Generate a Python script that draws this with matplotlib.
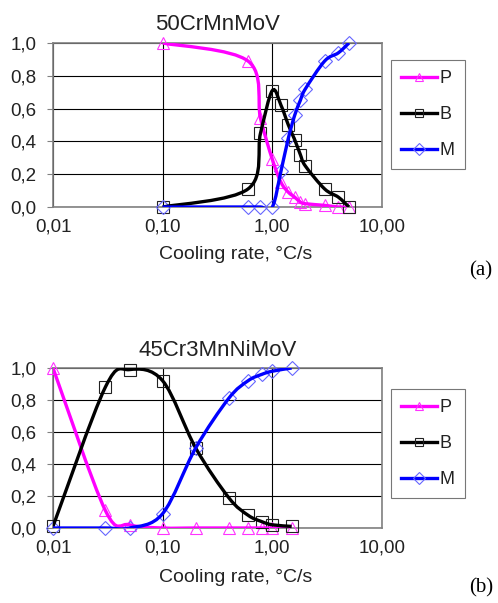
import numpy as np
import matplotlib
matplotlib.use("Agg")
import matplotlib.pyplot as plt
from matplotlib.path import Path
from matplotlib.patches import PathPatch
from matplotlib.lines import Line2D
from matplotlib.ticker import FixedLocator, FixedFormatter

plt.rcParams['font.family'] = ['Liberation Sans', 'DejaVu Sans']

# (a) 50CrMnMoV
rate_a = [0.1, 0.6, 0.78, 1.0, 1.2, 1.4, 1.6, 1.8, 2.0, 3.0, 4.0, 5.0]
p_a = [1.0, 0.89, 0.54, 0.29, 0.15, 0.09, 0.06, 0.03, 0.02, 0.01, 0.0, 0.0]
b_a = [0.0, 0.11, 0.45, 0.71, 0.62, 0.50, 0.41, 0.32, 0.25, 0.11, 0.06, 0.0]
m_a = [0.0, 0.0, 0.0, 0.0, 0.22, 0.42, 0.56, 0.65, 0.72, 0.89, 0.94, 1.0]

# (b) 45Cr3MnNiMoV
rate_b = [0.01, 0.03, 0.05, 0.1, 0.2, 0.4, 0.6, 0.8, 1.0, 1.5]
p_b = [1.0, 0.11, 0.02, 0.0, 0.0, 0.0, 0.0, 0.0, 0.0, 0.0]
b_b = [0.01, 0.88, 0.99, 0.92, 0.5, 0.19, 0.08, 0.04, 0.02, 0.01]
m_b = [0.0, 0.0, 0.0, 0.09, 0.5, 0.81, 0.92, 0.96, 0.98, 1.0]

x_ticks = [0.01, 0.1, 1, 10]
x_labels = ['0,01', '0,10', '1,00', '10,00']
y_ticks = [0, 0.2, 0.4, 0.6, 0.8, 1.0]
y_labels = ['0,0', '0,2', '0,4', '0,6', '0,8', '1,0']

styles = {
    'P': dict(color='#ff00ff', marker='^', mec='#ff33ff', ms=9),
    'B': dict(color='black', marker='s', mec='#222222', ms=9),
    'M': dict(color='#0000ff', marker='D', mec='#6666ff', ms=7),
}


def smooth_path(x, y):
    # Excel-like smoothed line: bezier segments in log-x space
    u = np.log10(np.asarray(x, float))
    v = np.asarray(y, float)
    n = len(u)
    verts = [(u[0], v[0])]
    codes = [Path.MOVETO]
    for i in range(n - 1):
        a = max(i - 1, 0)
        d = min(i + 2, n - 1)
        c1 = (u[i] + (u[i + 1] - u[a]) / 6, v[i] + (v[i + 1] - v[a]) / 6)
        c2 = (u[i + 1] - (u[d] - u[i]) / 6, v[i + 1] - (v[d] - v[i]) / 6)
        verts += [c1, c2, (u[i + 1], v[i + 1])]
        codes += [Path.CURVE4] * 3
    verts = np.array(verts)
    verts[:, 0] = 10 ** verts[:, 0]
    return Path(verts, codes)


def draw(ax, rate, series, title):
    for name, vals in series:
        st = styles[name]
        ax.plot(rate, vals, ls='none', marker=st['marker'], ms=st['ms'],
                mfc='none', mec=st['mec'], mew=0.8, zorder=3, clip_on=False)
        ax.add_patch(PathPatch(smooth_path(rate, vals), fill=False,
                               edgecolor=st['color'], lw=2.4, zorder=4))
    ax.set_xscale('log')
    ax.set_xlim(0.01, 10)
    ax.set_ylim(0, 1)
    ax.xaxis.set_major_locator(FixedLocator(x_ticks))
    ax.xaxis.set_major_formatter(FixedFormatter(x_labels))
    ax.xaxis.set_minor_locator(FixedLocator([]))
    ax.yaxis.set_major_locator(FixedLocator(y_ticks))
    ax.yaxis.set_major_formatter(FixedFormatter(y_labels))
    ax.tick_params(axis='x', length=0, pad=8, labelsize=13.5, labelcolor='#222222')
    ax.tick_params(axis='y', length=4, direction='out', color='#808080', pad=8,
                   labelsize=13.5, labelcolor='#222222')
    ax.grid(True, color='black', lw=0.8)
    ax.set_axisbelow(True)
    for s in ax.spines.values():
        s.set_color('#808080')
        s.set_linewidth(1.2)
    ax.set_title(title, fontsize=16, pad=9, color='#222222')
    handles = [Line2D([], [], color=styles[n]['color'], lw=2.4, marker=styles[n]['marker'],
                      ms=6, mfc='none', mec=styles[n]['mec'], mew=0.8) for n, _ in series]
    return handles


fig = plt.figure(figsize=(4.98, 6.03), dpi=100)
ax1 = fig.add_axes([53 / 498, 1 - 207 / 603, 329 / 498, 164 / 603])
ax2 = fig.add_axes([53 / 498, 1 - 528 / 603, 329 / 498, 160 / 603])

h1 = draw(ax1, rate_a, [('P', p_a), ('B', b_a), ('M', m_a)], '50CrMnMoV')
h2 = draw(ax2, rate_b, [('P', p_b), ('B', b_b), ('M', m_b)], '45Cr3MnNiMoV')

for ax, h, top in [(ax1, h1, 60), (ax2, h2, 389)]:
    leg = fig.legend(h, ['P', 'B', 'M'], loc='upper left',
                     bbox_to_anchor=(391 / 498, 1 - top / 603), fontsize=13,
                     frameon=True, fancybox=False, edgecolor='#555555',
                     handlelength=2.0, labelspacing=1.05, borderpad=0.55,
                     handletextpad=0.15, borderaxespad=0)
    leg.get_frame().set_linewidth(0.8)
    for t in leg.get_texts():
        t.set_color('#222222')

for y in (254, 578):
    fig.text(236 / 498, 1 - y / 603, 'Cooling rate, °C/s', ha='center', va='center',
             fontsize=14, color='#222222')
fig.text(481 / 498, 1 - 271 / 603, '(a)', ha='center', va='center', fontsize=15,
         family=['Liberation Serif', 'DejaVu Serif'])
fig.text(481 / 498, 1 - 588 / 603, '(b)', ha='center', va='center', fontsize=15,
         family=['Liberation Serif', 'DejaVu Serif'])

fig.savefig('out.png', dpi=100)
